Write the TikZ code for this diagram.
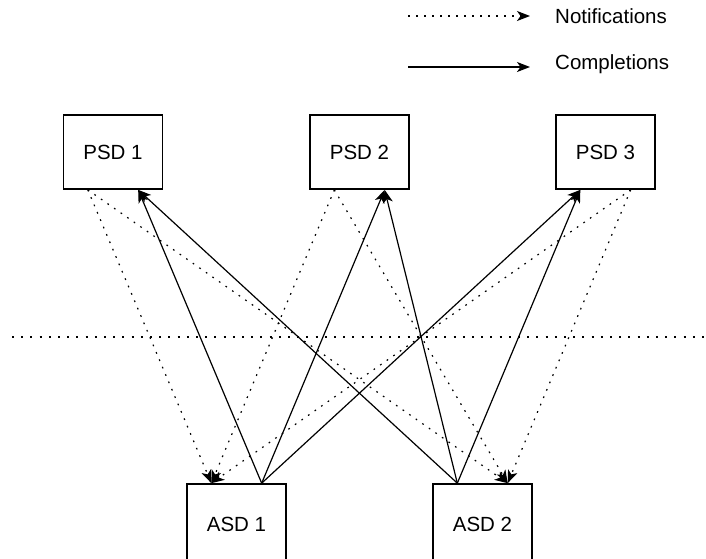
\documentclass[tikz,border=0pt]{standalone}
\usepackage{fontspec}
\setmainfont{Liberation Sans}
\usetikzlibrary{arrows.meta,calc,positioning}

\tikzset{
  unit/.style={draw, line width=1.7, minimum width=99, minimum height=74,
    inner sep=0, font=\fontsize{20.5}{24}\selectfont},
  compl/.style={line width=1.2, -{Stealth[length=13, width=10, inset=3.5]}},
  notif/.style={compl, dash pattern=on 1.7 off 6.3},
  legtext/.style={anchor=west, inner sep=0, font=\fontsize{20.5}{24}\selectfont}
}

\begin{document}
\begin{tikzpicture}[x=1pt, y=-1pt]
  \useasboundingbox (0,0) rectangle (706,558);

  % legend
  \coordinate (n0) at (408,16);
  \coordinate (n1) at (530,16);
  \coordinate (c0) at (408,67);
  \coordinate (c1) at (530,67);
  \node[legtext] (ntxt) at (555,16) {Notifications};
  \node[legtext] (ctxt) at (555,64) {Completions};
  \draw[notif] (n0) -- (n1);
  \draw[compl] (c0) -- (c1);

  % boxes
  \node[unit] (psd1) at (113,152) {PSD 1};
  \node[unit] (psd2) at (359.5,152) {PSD 2};
  \node[unit] (psd3) at (605.5,152) {PSD 3};
  \node[unit, minimum height=80] (asd1) at (236.5,524) {ASD 1};
  \node[unit, minimum height=80] (asd2) at (482.5,524) {ASD 2};

  % separator
  \coordinate (s0) at (12,337);
  \coordinate (s1) at (706,337);
  \draw[line width=2, dash pattern=on 2 off 7.2] (s0) -- (s1);

  % notifications
  \draw[notif] ($(psd1.south west)!0.25!(psd1.south east)$)
    -- ($(asd1.north west)!0.25!(asd1.north east)$);
  \draw[notif] ($(psd1.south west)!0.25!(psd1.south east)$)
    -- ($(asd2.north west)!0.75!(asd2.north east)$);
  \draw[notif] ($(psd2.south west)!0.25!(psd2.south east)$)
    -- ($(asd1.north west)!0.25!(asd1.north east)$);
  \draw[notif] ($(psd2.south west)!0.25!(psd2.south east)$)
    -- ($(asd2.north west)!0.75!(asd2.north east)$);
  \draw[notif] ($(psd3.south west)!0.75!(psd3.south east)$)
    -- ($(asd1.north west)!0.25!(asd1.north east)$);
  \draw[notif] ($(psd3.south west)!0.75!(psd3.south east)$)
    -- ($(asd2.north west)!0.75!(asd2.north east)$);

  % completions
  \draw[compl] ($(asd1.north west)!0.75!(asd1.north east)$)
    -- ($(psd1.south west)!0.75!(psd1.south east)$);
  \draw[compl] ($(asd1.north west)!0.75!(asd1.north east)$)
    -- ($(psd2.south west)!0.75!(psd2.south east)$);
  \draw[compl] ($(asd1.north west)!0.75!(asd1.north east)$)
    -- ($(psd3.south west)!0.25!(psd3.south east)$);
  \draw[compl] ($(asd2.north west)!0.25!(asd2.north east)$)
    -- ($(psd1.south west)!0.75!(psd1.south east)$);
  \draw[compl] ($(asd2.north west)!0.25!(asd2.north east)$)
    -- ($(psd2.south west)!0.75!(psd2.south east)$);
  \draw[compl] ($(asd2.north west)!0.25!(asd2.north east)$)
    -- ($(psd3.south west)!0.25!(psd3.south east)$);
\end{tikzpicture}
\end{document}
